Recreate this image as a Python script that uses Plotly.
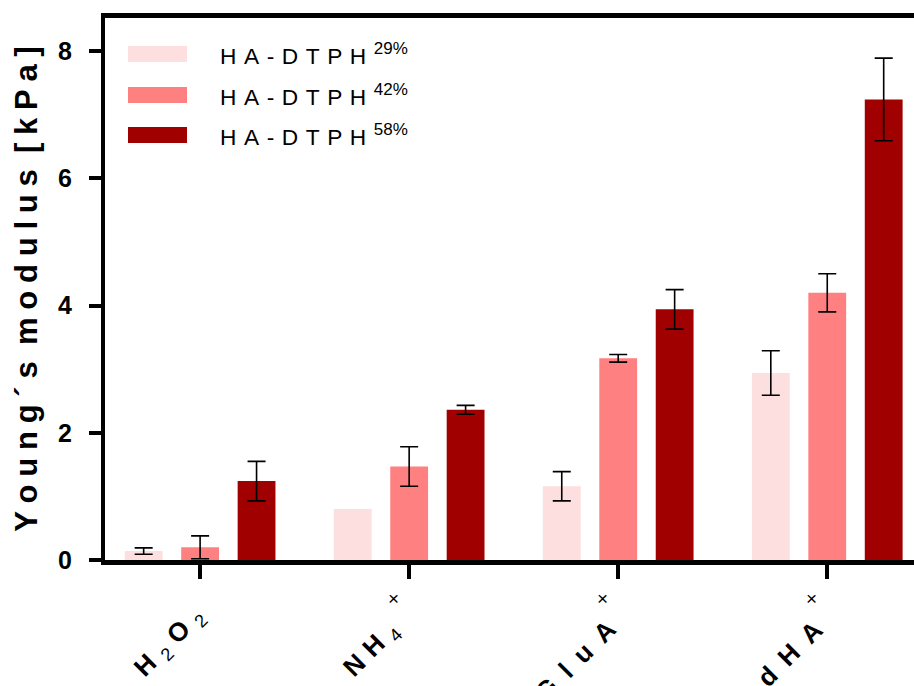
import plotly.graph_objects as go

# ---- data ----
categories = ["H2O2", "NH4", "GluA", "dHA"]
has_cross = [False, True, True, True]
series_names = ["29%", "42%", "58%"]
values_29 = [0.14, 0.80, 1.16, 2.94]
errors_29 = [0.05, None, 0.23, 0.35]
values_42 = [0.20, 1.47, 3.17, 4.20]
errors_42 = [0.18, 0.31, 0.06, 0.30]
values_58 = [1.24, 2.36, 3.94, 7.24]
errors_58 = [0.31, 0.07, 0.31, 0.65]
y_ticks = [0, 2, 4, 6, 8]

colors = ["#FDDFDF", "#FF8080", "#A00000"]
xpos = list(range(len(categories)))

fig = go.Figure()
for k, (name, vals, errs, col) in enumerate(zip(series_names, [values_29, values_42, values_58],
                                                [errors_29, errors_42, errors_58], colors)):
    grp = "g" + str(k)
    # bars
    fig.add_trace(go.Bar(
        x=xpos, y=vals, name=name, offsetgroup=grp,
        marker=dict(color=col, line=dict(width=0)),
        showlegend=False,
    ))
    # error bars only where an error exists (transparent twin bars in same slot)
    idx = [i for i, e in enumerate(errs) if e is not None]
    fig.add_trace(go.Bar(
        x=[xpos[i] for i in idx], y=[vals[i] for i in idx], offsetgroup=grp,
        marker=dict(color="rgba(0,0,0,0)", line=dict(width=0)),
        error_y=dict(type="data", array=[errs[i] for i in idx], visible=True,
                     color="black", thickness=1.6, width=9),
        showlegend=False, hoverinfo="skip",
    ))


def spaced(s, gap):
    return gap.join(list(s))


g5 = "\u2005"
title_txt = (spaced("Young´s", g5) + " " + g5 + spaced("modulus", g5) + " " + g5
             + spaced("[kPa]", g5))

fig.update_layout(
    width=914, height=686,
    margin=dict(l=105, r=0, t=18, b=126),
    paper_bgcolor="white", plot_bgcolor="white",
    font=dict(family="Liberation Sans, Arial, sans-serif", color="black"),
    barmode="group", bargap=0.19, bargroupgap=0.33,
    xaxis=dict(
        range=[-0.455, 3.415], tickvals=xpos, ticktext=[""] * len(xpos),
        showline=True, linecolor="black", linewidth=5, mirror=True,
        ticks="outside", ticklen=14, tickwidth=4, tickcolor="black",
        showgrid=False, zeroline=False,
    ),
    yaxis=dict(
        range=[0, 8.52], tickvals=y_ticks, ticktext=[str(v) for v in y_ticks],
        showline=True, linecolor="black", linewidth=4,
        ticks="outside", ticklen=12, tickwidth=4, tickcolor="black",
        ticklabelstandoff=12,
        tickfont=dict(size=25, family="Liberation Sans, Arial", weight="bold"),
        showgrid=False, zeroline=False,
        title=dict(text=title_txt, font=dict(size=31, weight="bold"), standoff=12),
    ),
)

# x category labels (rotated) and cross marks
g4 = "\u2004"
g2 = "\u2002"
label_texts = [
    "<b>H</b>" + g4 + "<sub>2</sub>" + g4 + "<b>O</b>" + g4 + "<sub>2</sub>",
    "<b>N" + g4 + "H</b>" + g4 + "<sub>4</sub>",
    "<b>" + spaced("GluA", g2) + "</b>",
    "<b>" + spaced("dHA", g2) + "</b>",
]
label_shift = [(14, -38), (0, -52), (6, -52), (4, -52)]
for i, txt in enumerate(label_texts):
    fig.add_annotation(x=xpos[i], y=0, xref="x", yref="y", text=txt,
                       textangle=-45, xanchor="right", yanchor="top",
                       xshift=label_shift[i][0], yshift=label_shift[i][1],
                       showarrow=False, font=dict(size=26, color="black"))
    if has_cross[i]:
        fig.add_annotation(x=xpos[i], y=0, xref="x", yref="y", text="×",
                           xanchor="center", yanchor="middle",
                           xshift=-16, yshift=-38, showarrow=False,
                           font=dict(size=19, color="black"))

# custom legend
leg_y = [54, 95, 135]
for name, col, yc in zip(series_names, colors, leg_y):
    fig.add_shape(type="rect", xref="paper", yref="paper",
                  x0=(128 - 105) / 809, x1=(187 - 105) / 809,
                  y0=(560 - (yc + 8)) / 542, y1=(560 - (yc - 8)) / 542,
                  fillcolor=col, line=dict(width=0))
    fig.add_annotation(xref="paper", yref="paper",
                       x=(218 - 105) / 809, y=(560 - yc) / 542,
                       text=spaced("HA-DTPH", g4) + g4 + "<sup><span style='font-size:17px'>"
                       + name + "</span></sup>",
                       xanchor="left", yanchor="middle", showarrow=False,
                       font=dict(size=22.7, color="black"))

fig.write_html("out.html")
